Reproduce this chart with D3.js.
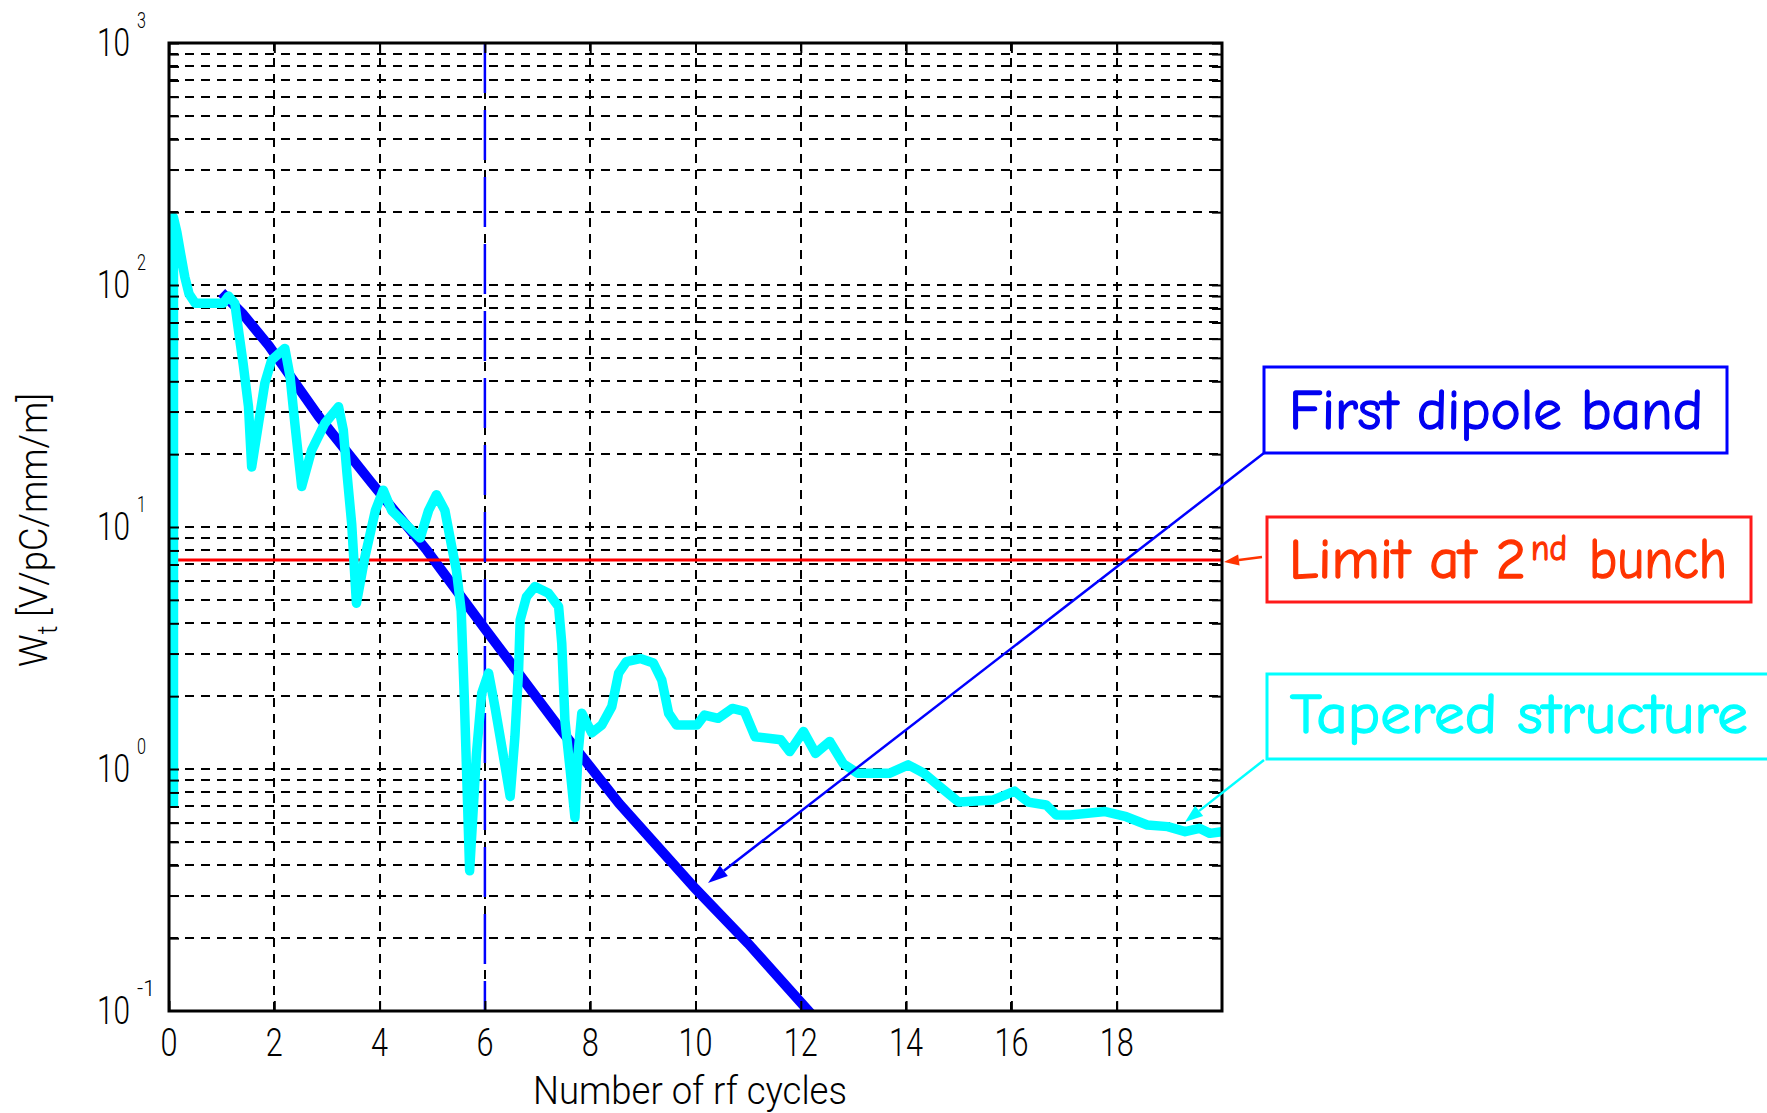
<!DOCTYPE html>
<html>
<head>
<meta charset="utf-8">
<script src="https://cdn.jsdelivr.net/npm/d3@7"></script>
<style>
  html, body { margin: 0; padding: 0; background: #ffffff; }
  svg { display: block; }
  .tick-font { font-family: "Liberation Sans Narrow", "Roboto", "Liberation Sans", sans-serif; font-weight: 300; }
  .note-font { font-family: "Comic Sans MS", "Comic Neue", "Lato", "Noto Sans", sans-serif; }
</style>
</head>
<body>
<svg id="chart" width="1767" height="1113"></svg>
<script>
// ---------------- data ----------------
const xTicks = [0, 2, 4, 6, 8, 10, 12, 14, 16, 18];
const yDecades = [-1, 0, 1, 2, 3];
const yTickBase = "10";

// First dipole band (blue, thick)
const dipoleCycles = [1.0, 1.4, 1.9, 2.85, 3.85, 4.9, 6.0, 7.5, 8.55, 10.0, 11.0, 12.2, 12.4];
const dipoleWake   = [93, 76, 56, 28.5, 15.2, 8.0, 3.8, 1.4, 0.72, 0.32, 0.19, 0.097, 0.088];

// Tapered structure (cyan)
const taperCycles = [0.085, 0.085, 0.15, 0.22, 0.30, 0.38, 0.50, 1.03, 1.13, 1.25, 1.32, 1.41, 1.51, 1.57, 1.70, 1.82, 1.95,
  2.20, 2.30, 2.39, 2.52, 2.71, 2.96, 3.22, 3.31, 3.38, 3.47, 3.56, 3.72, 3.92, 4.07, 4.23, 4.61, 4.77, 4.93, 5.08,
  5.24, 5.37, 5.46, 5.55, 5.61, 5.71, 5.84, 5.94, 6.07, 6.19, 6.32, 6.48, 6.57, 6.64, 6.67, 6.79, 6.95, 7.21, 7.40,
  7.46, 7.52, 7.62, 7.71, 7.77, 7.84, 8.03, 8.22, 8.41, 8.54, 8.69, 8.95, 9.20, 9.36, 9.49, 9.64, 10.03, 10.17, 10.43,
  10.70, 10.93, 11.13, 11.62, 11.79, 12.05, 12.28, 12.55, 12.81, 13.08, 13.68, 14.04, 14.34, 14.60, 15.0, 15.66,
  16.06, 16.32, 16.66, 16.85, 17.12, 17.78, 18.18, 18.58, 18.97, 19.30, 19.57, 19.77, 20.0];
const taperWake = [0.70, 190, 165, 135, 108, 92, 84, 84, 90, 84, 65, 47, 31.4, 17.7, 26.8, 39.3, 49,
  54.7, 41.8, 26.8, 14.7, 20.8, 26.8, 31.4, 25.2, 16.7, 10.3, 4.84, 7.5, 11.7, 14.2, 11.7, 9.7, 9.0, 11.7, 13.6,
  11.7, 8.3, 6.6, 4.5, 1.93, 0.38, 1.16, 2.06, 2.49, 1.81, 1.24, 0.77, 1.36, 2.56, 4.13, 5.15, 5.67, 5.32, 4.69,
  3.3, 1.59, 0.99, 0.63, 1.16, 1.70, 1.41, 1.52, 1.81, 2.49, 2.78, 2.86, 2.74, 2.33, 1.70, 1.52, 1.52, 1.67, 1.62,
  1.78, 1.73, 1.36, 1.32, 1.18, 1.43, 1.16, 1.30, 1.05, 0.96, 0.96, 1.04, 0.96, 0.86, 0.73, 0.745,
  0.81, 0.73, 0.71, 0.646, 0.646, 0.667, 0.635, 0.587, 0.578, 0.551, 0.569, 0.542, 0.551];

const limitWake = 7.3;     // limit at 2nd bunch
const markerCycle = 6;     // dashed vertical marker

const xLabel = "Number of rf cycles";
const yLabelMain = "W";
const yLabelSub = "t";
const yLabelRest = " [V/pC/mm/m]";

const noteDipole = "First dipole band";
const noteLimitA = "Limit at 2";
const noteLimitSup = "nd";
const noteLimitB = "bunch";
const noteTaper = "Tapered structure";

// ---------------- layout ----------------
const L = 169, R = 1222, T = 43, B = 1011;
const svg = d3.select("#chart");
svg.append("rect").attr("width", 1767).attr("height", 1113).attr("fill", "#fff");

const x = d3.scaleLinear().domain([0, 20]).range([L, R]);
const y = d3.scaleLog().domain([0.1, 1000]).range([B, T]);

svg.append("defs").append("clipPath").attr("id", "plotclip")
  .append("rect").attr("x", L).attr("y", T).attr("width", R - L).attr("height", B - T);

const yGridVals = [];
for (let e = -1; e <= 2; e++) for (let m = 1; m <= 9; m++) { const v = m * Math.pow(10, e); if (v > 0.1) yGridVals.push(v); }

const grid = svg.append("g").attr("shape-rendering", "crispEdges");
grid.selectAll("line.hg").data(yGridVals).join("line")
  .attr("x1", L).attr("x2", R).attr("y1", d => Math.round(y(d))).attr("y2", d => Math.round(y(d)))
  .attr("stroke", "#000").attr("stroke-width", 2).attr("stroke-dasharray", "9,7");
grid.selectAll("line.vg").data(xTicks.filter(d => d > 0)).join("line")
  .attr("x1", d => Math.round(x(d))).attr("x2", d => Math.round(x(d))).attr("y1", B).attr("y2", T)
  .attr("stroke", "#000").attr("stroke-width", 2).attr("stroke-dasharray", "9,7");

const plot = svg.append("g").attr("clip-path", "url(#plotclip)");
const line = d3.line().x(d => x(d[0])).y(d => y(d[1]));

plot.append("path").datum(dipoleCycles.map((c, i) => [c, dipoleWake[i]]))
  .attr("d", line).attr("fill", "none").attr("stroke", "#0000ff").attr("stroke-width", 10)
  .attr("stroke-linejoin", "miter");

plot.append("line").attr("x1", x(0)).attr("x2", x(20)).attr("y1", y(limitWake)).attr("y2", y(limitWake))
  .attr("stroke", "#ff0000").attr("stroke-width", 3);

plot.append("line").attr("x1", x(markerCycle)).attr("x2", x(markerCycle)).attr("y1", T).attr("y2", B)
  .attr("stroke", "#0000ff").attr("stroke-width", 2.5).attr("stroke-dasharray", "50,17");

plot.append("path").datum(taperCycles.map((c, i) => [c, taperWake[i]]))
  .attr("d", line).attr("fill", "none").attr("stroke", "#00ffff").attr("stroke-width", 9.5)
  .attr("stroke-linejoin", "round");

svg.append("rect").attr("x", L).attr("y", T).attr("width", R - L).attr("height", B - T)
  .attr("fill", "none").attr("stroke", "#000").attr("stroke-width", 3);

const tk = 10;
function styleTicks(g) { g.select(".domain").remove(); g.selectAll("line").attr("stroke-width", 2); }
svg.append("g").attr("transform", `translate(0,${B})`)
  .call(d3.axisTop(x).tickValues(xTicks).tickSize(tk).tickFormat("")).call(styleTicks);
svg.append("g").attr("transform", `translate(0,${T})`)
  .call(d3.axisBottom(x).tickValues(xTicks).tickSize(tk).tickFormat("")).call(styleTicks);
const yTickVals = yGridVals.concat([1000]);
svg.append("g").attr("transform", `translate(${L},0)`)
  .call(d3.axisRight(y).tickValues(yTickVals).tickSize(tk).tickFormat("")).call(styleTicks);
svg.append("g").attr("transform", `translate(${R},0)`)
  .call(d3.axisLeft(y).tickValues(yTickVals).tickSize(tk).tickFormat("")).call(styleTicks);

// x tick labels
svg.append("g").selectAll("text").data(xTicks).join("text")
  .attr("class", "tick-font")
  .attr("x", d => x(d)).attr("y", 1056).attr("text-anchor", "middle")
  .attr("font-size", 38).attr("fill", "#000")
  .attr("textLength", d => String(d).length * 17).attr("lengthAdjust", "spacingAndGlyphs")
  .text(d => d);

// y tick labels: 10^e
const yl = svg.append("g");
yDecades.forEach(e => {
  const yy = y(Math.pow(10, e));
  yl.append("text").attr("class", "tick-font").attr("x", 97).attr("y", yy + 13)
    .attr("text-anchor", "start").attr("font-size", 38).attr("fill", "#000")
    .attr("textLength", 33).attr("lengthAdjust", "spacingAndGlyphs").text(yTickBase);
  yl.append("text").attr("class", "tick-font").attr("x", 137).attr("y", yy - 15)
    .attr("text-anchor", "start").attr("font-size", 22).attr("fill", "#000")
    .attr("textLength", String(e).length * 9).attr("lengthAdjust", "spacingAndGlyphs").text(e);
});

// axis labels
svg.append("text").attr("class", "tick-font").attr("x", 533).attr("y", 1104)
  .attr("font-size", 38).attr("fill", "#000")
  .attr("textLength", 314).attr("lengthAdjust", "spacingAndGlyphs").text(xLabel);

const ylab = svg.append("text").attr("class", "tick-font")
  .attr("transform", "translate(47,667) rotate(-90)")
  .attr("font-size", 38).attr("fill", "#000")
  .attr("textLength", 274).attr("lengthAdjust", "spacingAndGlyphs");
ylab.append("tspan").text(yLabelMain);
ylab.append("tspan").attr("font-size", 28).attr("dy", 10).text(yLabelSub);
ylab.append("tspan").attr("dy", -10).text(yLabelRest);

// ---------------- annotations ----------------
const ann = svg.append("g");
function arrow(x1, y1, x2, y2, color, w, headLen, headW) {
  const ang = Math.atan2(y2 - y1, x2 - x1);
  const bx = x2 - headLen * Math.cos(ang), by = y2 - headLen * Math.sin(ang);
  ann.append("line").attr("x1", x1).attr("y1", y1).attr("x2", bx).attr("y2", by)
    .attr("stroke", color).attr("stroke-width", w);
  const px = -Math.sin(ang) * headW / 2, py = Math.cos(ang) * headW / 2;
  ann.append("path").attr("d", `M${x2},${y2}L${bx + px},${by + py}L${bx - px},${by - py}Z`).attr("fill", color);
}
function note(txt, x0, y0, size, color, len) {
  ann.append("text").attr("class", "note-font").attr("x", x0).attr("y", y0)
    .attr("font-size", size).attr("fill", color).attr("stroke", color).attr("stroke-width", 1.3)
    .attr("textLength", len).attr("lengthAdjust", "spacingAndGlyphs").text(txt);
}

ann.append("rect").attr("x", 1264).attr("y", 367).attr("width", 463).attr("height", 86)
  .attr("fill", "#fff").attr("stroke", "#0000ff").attr("stroke-width", 3);
note(noteDipole, 1289, 429, 56, "#0000f0", 414);
arrow(1264, 453, 708, 883, "#0000ff", 2.5, 20, 13);

ann.append("rect").attr("x", 1267).attr("y", 517).attr("width", 484).attr("height", 85)
  .attr("fill", "#fff").attr("stroke", "#ff1a1a").attr("stroke-width", 3);
note(noteLimitA, 1289, 578, 56, "#ff3300", 237);
note(noteLimitSup, 1531, 560, 36, "#ff3300", 36);
note(noteLimitB, 1589, 578, 56, "#ff3300", 138);
arrow(1262, 557, 1224, 562, "#ff3300", 2.5, 15, 11);

ann.append("rect").attr("x", 1267).attr("y", 674).attr("width", 520).attr("height", 85)
  .attr("fill", "#fff").attr("stroke", "#00ffff").attr("stroke-width", 3);
note(noteTaper, 1290, 733, 56, "#00ffff", 458);
arrow(1264, 760, 1185, 822, "#00ffff", 2.5, 18, 13);
</script>
</body>
</html>
